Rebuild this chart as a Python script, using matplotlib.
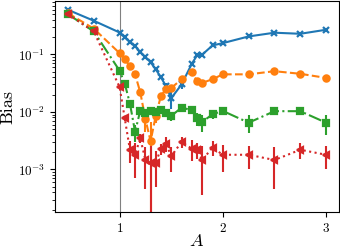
import matplotlib
matplotlib.use('Agg')
import matplotlib.pyplot as plt

plt.rcParams['font.family'] = 'serif'
plt.rcParams['font.serif'] = ['cmr10']
plt.rcParams['mathtext.fontset'] = 'cm'
plt.rcParams['axes.formatter.use_mathtext'] = True

# Data
A = [0.5, 0.75, 1.0, 1.05, 1.1, 1.15, 1.2, 1.25, 1.3, 1.35, 1.4, 1.45,
     1.5, 1.6, 1.7, 1.75, 1.8, 1.9, 2.0, 2.25, 2.5, 2.75, 3.0]

bias_blue = [0.595, 0.384, 0.240, 0.197, 0.163, 0.139, 0.110, 0.090, 0.073,
             0.055, 0.040, 0.028, 0.0173, 0.030, 0.069, 0.096, 0.099, 0.143,
             0.157, 0.205, 0.238, 0.228, 0.268]
err_blue = [0.004, 0.003, 0.003, 0.003, 0.003, 0.003, 0.003, 0.003, 0.003,
            0.003, 0.003, 0.004, 0.006, 0.005, 0.004, 0.003, 0.003, 0.003,
            0.003, 0.003, 0.003, 0.003, 0.003]

bias_orange = [0.52, 0.28, 0.105, 0.083, 0.062, 0.045, 0.022, 0.0075, 0.0031,
               0.0085, 0.019, 0.025, 0.026, 0.037, 0.050, 0.034, 0.032, 0.037,
               0.045, 0.045, 0.051, 0.046, 0.039]
err_orange = [0.003, 0.003, 0.002, 0.002, 0.002, 0.002, 0.002, 0.003, 0.0035,
              0.002, 0.002, 0.002, 0.002, 0.002, 0.002, 0.002, 0.002, 0.002,
              0.002, 0.002, 0.002, 0.002, 0.002]

bias_green = [0.50, 0.25, 0.052, 0.031, 0.014, 0.0045, 0.0105, 0.0095, 0.0105,
              0.0100, 0.0110, 0.0095, 0.0085, 0.0119, 0.0107, 0.0077, 0.0067,
              0.0091, 0.0104, 0.0065, 0.0103, 0.0103, 0.0065]
err_green = [0.002, 0.002, 0.002, 0.002, 0.002, 0.0015, 0.0015, 0.0015, 0.0015,
             0.0015, 0.0015, 0.0015, 0.0015, 0.0015, 0.0015, 0.002, 0.0022,
             0.0015, 0.0015, 0.0022, 0.0015, 0.0015, 0.0025]

bias_red = [0.50, 0.25, 0.027, 0.0077, 0.0022, 0.0018, 0.0035, 0.00146, 0.0013,
            0.0013, 0.0023, 0.0028, 0.0017, 0.0030, 0.0023, 0.0022, 0.00146,
            0.0024, 0.0018, 0.0018, 0.00146, 0.0022, 0.0018]
err_red = [0.002, 0.002, 0.001, 0.0008, 0.0009, 0.0011, 0.0006, 0.0010, 0.00127,
           0.0008, 0.0005, 0.0008, 0.0008, 0.0006, 0.0009, 0.0007, 0.0011,
           0.0007, 0.0009, 0.0008, 0.0010, 0.0007, 0.0008]

series = [
    (bias_blue, err_blue, 'C0', '-', 'x', 5),
    (bias_orange, err_orange, 'C1', '--', 'o', 4.5),
    (bias_green, err_green, 'C2', '-.', 's', 4),
    (bias_red, err_red, 'C3', ':', '<', 4.5),
]

fig = plt.figure(figsize=(3.4, 2.49), dpi=100)
ax = fig.add_axes([0.162, 0.149, 0.835, 0.845])

ax.axvline(1.0, color='gray', linewidth=0.8, zorder=0)

for vals, errs, color, ls, marker, ms in series:
    ax.errorbar(A, vals, yerr=errs, color=color, linestyle=ls, marker=marker,
                markersize=ms, markeredgewidth=1.6, linewidth=1.5,
                elinewidth=1.5, capsize=0)

ax.set_yscale('log')
ax.set_xlim(0.375, 3.125)
ax.set_ylim(1.83e-4, 0.83)
ax.set_xticks([1, 2, 3])
ax.tick_params(labelsize=9.5)
ax.set_xlabel('$A$', fontsize=13, labelpad=-1)
ax.set_ylabel('Bias', fontsize=13, labelpad=2)

fig.savefig('out.png', dpi=100)
